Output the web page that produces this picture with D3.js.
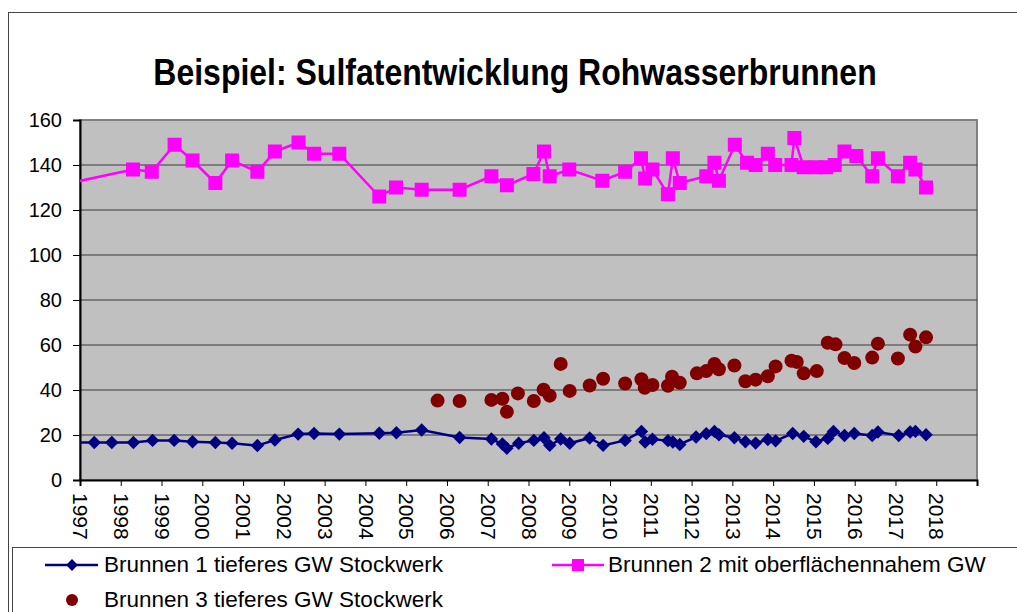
<!DOCTYPE html>
<html>
<head>
<meta charset="utf-8">
<script src="https://cdn.jsdelivr.net/npm/d3@7"></script>
<style>
  body { margin: 0; background: #fff; }
  svg { display: block; font-family: "Liberation Sans", Arial, sans-serif; }
</style>
</head>
<body>
<svg id="chart" width="1017" height="612"></svg>
<script>
// Werte: [Jahr als Dezimalzahl, Sulfat mg/l]
var brunnen1 = [
  [1996.5, 16.7], [1997.35, 16.7], [1997.78, 16.7], [1998.31, 16.7], [1998.78, 17.6],
  [1999.31, 17.6], [1999.76, 17], [2000.32, 16.7], [2000.73, 16.3], [2001.35, 15.3],
  [2001.78, 17.8], [2002.35, 20.4], [2002.74, 20.7], [2003.36, 20.4], [2004.34, 20.8],
  [2004.76, 21], [2005.38, 22.2], [2006.31, 18.9], [2007.09, 18.2], [2007.36, 16],
  [2007.47, 14.1], [2007.76, 16.3], [2008.13, 17.6], [2008.38, 18.8], [2008.52, 15.4],
  [2008.79, 18.2], [2009.01, 16.3], [2009.5, 18.7], [2009.83, 15.4], [2010.37, 17.6],
  [2010.77, 21.6], [2010.86, 16.9], [2011.04, 18.1], [2011.42, 17.5], [2011.54, 16.9],
  [2011.71, 15.8], [2012.11, 19.1], [2012.36, 20.6], [2012.56, 21.6], [2012.67, 20.1],
  [2013.05, 18.8], [2013.32, 17], [2013.57, 16.4], [2013.87, 18], [2014.06, 17.4],
  [2014.48, 20.7], [2014.75, 19.4], [2015.05, 17], [2015.34, 18.5], [2015.48, 21.6],
  [2015.75, 19.8], [2015.99, 20.7], [2016.43, 19.8], [2016.57, 21.3], [2017.08, 19.8],
  [2017.36, 21.3], [2017.49, 21.6], [2017.75, 20.1]
];

var brunnen2 = [
  [1996.5, 131], [1998.30, 138], [1998.76, 137], [1999.32, 149], [1999.76, 142],
  [2000.32, 132], [2000.73, 142], [2001.35, 137], [2001.78, 146], [2002.36, 150],
  [2002.74, 145], [2003.36, 145], [2004.34, 126], [2004.75, 130], [2005.38, 129],
  [2006.31, 129], [2007.09, 135], [2007.47, 131], [2008.12, 136], [2008.38, 146],
  [2008.52, 135], [2009.0, 138], [2009.81, 133], [2010.37, 137], [2010.76, 143],
  [2010.86, 134], [2011.04, 138], [2011.42, 127], [2011.54, 143], [2011.71, 132],
  [2012.36, 135], [2012.56, 141], [2012.67, 133], [2013.06, 149], [2013.36, 141],
  [2013.57, 140], [2013.87, 145], [2014.05, 140], [2014.45, 140], [2014.52, 152],
  [2014.75, 139], [2015.05, 139], [2015.30, 139], [2015.51, 140], [2015.75, 146],
  [2016.04, 144], [2016.43, 135], [2016.57, 143], [2017.06, 135], [2017.36, 141],
  [2017.49, 138], [2017.75, 130]
];

var brunnen3 = [
  [2005.77, 35.3], [2006.31, 35.1], [2007.09, 35.6], [2007.36, 36.1], [2007.47, 30.3],
  [2007.74, 38.5], [2008.13, 35.1], [2008.37, 40.1], [2008.52, 37.5], [2008.79, 51.6],
  [2009.01, 39.6], [2009.5, 42], [2009.83, 45], [2010.37, 42.9], [2010.77, 44.8],
  [2010.85, 41], [2011.04, 42.2], [2011.42, 41.9], [2011.52, 45.9], [2011.71, 43.2],
  [2012.13, 47.4], [2012.36, 48.4], [2012.56, 51.6], [2012.67, 49.2], [2013.05, 50.9],
  [2013.32, 43.9], [2013.57, 44.6], [2013.87, 46.1], [2014.06, 50.5], [2014.45, 53],
  [2014.58, 52.5], [2014.75, 47.4], [2015.07, 48.4], [2015.34, 61], [2015.53, 60.3],
  [2015.75, 54.2], [2015.99, 52], [2016.43, 54.4], [2016.57, 60.6], [2017.06, 54],
  [2017.36, 64.6], [2017.49, 59.3], [2017.75, 63.4]
];

var yTicks = [0, 20, 40, 60, 80, 100, 120, 140, 160];
var xTicks = [1997, 1998, 1999, 2000, 2001, 2002, 2003, 2004, 2005, 2006, 2007,
  2008, 2009, 2010, 2011, 2012, 2013, 2014, 2015, 2016, 2017, 2018];
var seriesNames = ["Brunnen 1 tieferes GW Stockwerk", "Brunnen 2 mit oberflächennahem GW",
  "Brunnen 3 tieferes GW Stockwerk"];

var svg = d3.select("#chart");

// Rahmen Diagrammfläche
svg.append("rect")
  .attr("x", 8.5).attr("y", 12.5).attr("width", 1030).attr("height", 620)
  .style("fill", "none").style("stroke", "#444").style("stroke-width", 1);

// Titel (etwas hoeher gezogen wie in Excel)
svg.append("text")
  .attr("transform", "translate(515,85) scale(1,1.15)")
  .attr("text-anchor", "middle")
  .style("font-size", "32px").style("font-weight", "bold")
  .text("Beispiel: Sulfatentwicklung Rohwasserbrunnen");

var pLeft = 80, pTop = 120, pRight = 977, pBottom = 480;

var x = d3.scaleLinear().domain([1997, 2019]).range([pLeft, pRight]);
var y = d3.scaleLinear().domain([0, 160]).range([pBottom, pTop]);

// grauer Plotbereich
svg.append("rect")
  .attr("x", pLeft).attr("y", pTop)
  .attr("width", pRight - pLeft).attr("height", pBottom - pTop)
  .style("fill", "#C0C0C0").style("stroke", "#808080").style("stroke-width", 2);

// Gitterlinien
svg.append("g")
  .selectAll("line")
  .data(yTicks.filter(function (d) { return d > 0 && d < 160; }))
  .enter()
  .append("line")
  .attr("x1", pLeft).attr("x2", pRight)
  .attr("y1", function (d) { return y(d); })
  .attr("y2", function (d) { return y(d); })
  .style("stroke", "#3a3a3a").style("stroke-width", 1);

// Y Achse
var yAxis = svg.append("g")
  .attr("transform", "translate(" + pLeft + ",0)")
  .call(d3.axisLeft(y).tickValues(yTicks).tickSize(7).tickPadding(11));
yAxis.select(".domain").style("stroke", "#000").style("stroke-width", 2);
yAxis.selectAll("text").style("font-size", "20px").style("fill", "#000")
  .style("font-family", "'Liberation Sans', Arial, sans-serif");

// X Achse
var xAxis = svg.append("g")
  .attr("transform", "translate(0," + pBottom + ")")
  .call(d3.axisBottom(x).tickValues(xTicks).tickSize(6).tickFormat(d3.format("d")));
xAxis.select(".domain").style("stroke", "#000").style("stroke-width", 2);
xAxis.selectAll("text")
  .style("font-size", "21px").style("fill", "#000")
  .style("font-family", "'Liberation Sans', Arial, sans-serif")
  .attr("text-anchor", "start")
  .attr("dy", "0.35em")
  .attr("transform", "translate(0,3) rotate(90)")
  .attr("x", 10).attr("y", 0);

// Clip auf Plotbereich
svg.append("clipPath").attr("id", "plotclip")
  .append("rect")
  .attr("x", pLeft).attr("y", pTop - 10)
  .attr("width", pRight - pLeft).attr("height", pBottom - pTop + 10);

var plot = svg.append("g").attr("clip-path", "url(#plotclip)");

var line = d3.line()
  .x(function (d) { return x(d[0]); })
  .y(function (d) { return y(d[1]); });

// Brunnen 2 (magenta)
plot.append("path")
  .datum(brunnen2)
  .attr("d", line)
  .style("fill", "none").style("stroke", "#FF00FF").style("stroke-width", 2.5);

plot.append("g")
  .selectAll("rect")
  .data(brunnen2)
  .enter()
  .append("rect")
  .attr("x", function (d) { return x(d[0]) - 7; })
  .attr("y", function (d) { return y(d[1]) - 7; })
  .attr("width", 14).attr("height", 14)
  .style("fill", "#FF00FF");

// Brunnen 1 (dunkelblau)
plot.append("path")
  .datum(brunnen1)
  .attr("d", line)
  .style("fill", "none").style("stroke", "#000080").style("stroke-width", 2.5);

var diamond = d3.symbol().type(d3.symbolSquare).size(90);
plot.append("g")
  .selectAll("path")
  .data(brunnen1)
  .enter()
  .append("path")
  .attr("d", diamond)
  .attr("transform", function (d) {
    return "translate(" + x(d[0]) + "," + y(d[1]) + ") rotate(45)";
  })
  .style("fill", "#000080");

// Brunnen 3 (dunkelrot, nur Punkte)
plot.append("g")
  .selectAll("circle")
  .data(brunnen3)
  .enter()
  .append("circle")
  .attr("cx", function (d) { return x(d[0]); })
  .attr("cy", function (d) { return y(d[1]); })
  .attr("r", 7)
  .style("fill", "#800000");

// Legende
svg.append("rect")
  .attr("x", 12.5).attr("y", 547.5).attr("width", 1030).attr("height", 100)
  .style("fill", "#fff").style("stroke", "#444").style("stroke-width", 1);

var legend = svg.append("g").style("font-size", "22.5px");

legend.append("line")
  .attr("x1", 45).attr("x2", 98).attr("y1", 565).attr("y2", 565)
  .style("stroke", "#000080").style("stroke-width", 2.5);
legend.append("path")
  .attr("d", d3.symbol().type(d3.symbolSquare).size(70))
  .attr("transform", "translate(72,565) rotate(45)")
  .style("fill", "#000080");
legend.append("text").attr("x", 104).attr("y", 572).text(seriesNames[0]);

legend.append("line")
  .attr("x1", 552).attr("x2", 604).attr("y1", 565).attr("y2", 565)
  .style("stroke", "#FF00FF").style("stroke-width", 2.5);
legend.append("rect")
  .attr("x", 572).attr("y", 559).attr("width", 12).attr("height", 12)
  .style("fill", "#FF00FF");
legend.append("text").attr("x", 608).attr("y", 572).text(seriesNames[1]);

legend.append("circle")
  .attr("cx", 72).attr("cy", 600).attr("r", 6)
  .style("fill", "#800000");
legend.append("text").attr("x", 104).attr("y", 607).text(seriesNames[2]);
</script>
</body>
</html>
